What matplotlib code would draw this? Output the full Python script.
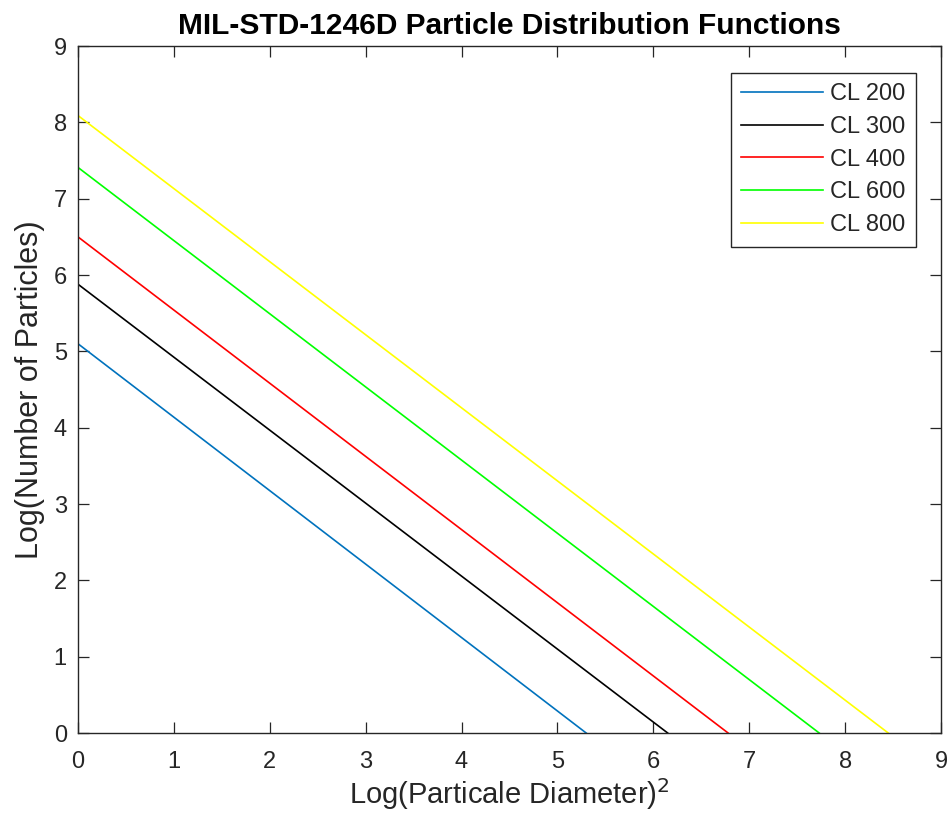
import matplotlib
matplotlib.use('agg')
import matplotlib.pyplot as plt

# cleanliness levels and their line endpoints
labels = ['CL 200', 'CL 300', 'CL 400', 'CL 600', 'CL 800']
y_start = [5.10, 5.88, 6.50, 7.41, 8.09]   # Log(N) at x = 0
x_end = [5.30, 6.15, 6.78, 7.73, 8.45]     # Log(D)^2 where Log(N) = 0
colors = ['#0072BD', '#000000', '#FF0000', '#00FF00', '#FFFF00']

plt.rcParams['font.family'] = ['Liberation Sans', 'DejaVu Sans']
ink = '#262626'

fig = plt.figure(figsize=(9.53, 8.25), dpi=100)
ax = fig.add_axes([0.0818, 0.1115, 0.9056, 0.8327])

for lab, y0, x1, c in zip(labels, y_start, x_end, colors):
    ax.plot([0, x1], [y0, 0], color=c, lw=1.2, label=lab)

ax.set_xlim(0, 9)
ax.set_ylim(0, 9)
ax.set_xticks(range(10))
ax.set_yticks(range(10))
ax.tick_params(direction='in', top=True, right=True, length=8, width=0.9,
               colors=ink, labelsize=17)
ax.tick_params(axis='x', pad=13)
ax.tick_params(axis='y', pad=8)
for s in ax.spines.values():
    s.set_color(ink)
    s.set_linewidth(1.0)

ax.set_title('MIL-STD-1246D Particle Distribution Functions', fontsize=21.5,
             fontweight='bold', color='black', pad=9)
ax.set_xlabel('Log(Particale Diameter)$^2$', fontsize=21, color=ink, labelpad=2)
ax.set_ylabel('Log(Number of Particles)', fontsize=22, color=ink, labelpad=6)

leg = ax.legend(loc='upper right', bbox_to_anchor=(0.971, 0.961), fontsize=17,
                handlelength=3.45, handletextpad=0.3, labelspacing=0.45,
                fancybox=False, framealpha=1, borderpad=0.45, borderaxespad=0)
leg.get_frame().set_edgecolor(ink)
leg.get_frame().set_linewidth(1.0)
for t in leg.get_texts():
    t.set_color(ink)

fig.savefig('out.png', dpi=100)
